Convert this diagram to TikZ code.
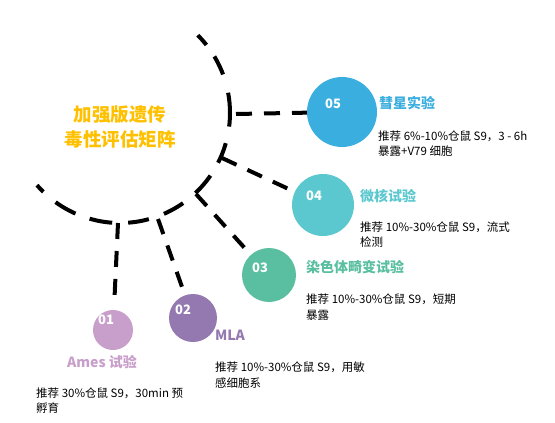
\documentclass[tikz,border=0pt]{standalone}
\usepackage{fontspec}
\setmainfont{Noto Sans CJK SC}
\usetikzlibrary{calc}
\definecolor{cfive}{RGB}{59,174,224}
\definecolor{cfour}{RGB}{91,200,208}
\definecolor{cthree}{RGB}{90,190,160}
\definecolor{ctwo}{RGB}{148,120,176}
\definecolor{cone}{RGB}{200,158,202}
\definecolor{gold}{RGB}{255,192,0}
\tikzset{
  arcline/.style={line width=4pt, dash pattern=on 13pt off 14pt on 20pt off 19pt on 34pt off 17pt on 21pt off 15pt on 23pt off 16pt on 22pt off 16pt on 21pt off 16pt on 23pt off 15pt on 23pt off 16pt on 20pt off 20pt},
  conn/.style={line width=4pt, dash pattern=on 16pt off 12pt},
  disc/.style={circle, inner sep=0pt, draw=none},
  num/.style={text=white, font=\fontsize{13}{13}\selectfont\bfseries, inner sep=0pt},
  ttl/.style={font=\fontsize{14}{14}\selectfont\bfseries, inner sep=0pt, anchor=west},
  desc/.style={font=\fontsize{11.5}{15.5}\selectfont, inner sep=0pt, anchor=west, align=left},
}
\begin{document}
\begin{tikzpicture}[x=1pt,y=1pt]
\useasboundingbox (0,0) rectangle (555,-423);
\coordinate (c) at (120,-113);
% main arc
\draw[arcline] ($(c)+(45:110)$) arc[start angle=45, end angle=-139, radius=110];
% title
\node[text=gold, font=\fontsize{18.5}{25}\selectfont\bfseries, align=center, inner sep=0pt] (title) at (120,-127.5) {加强版遗传\\毒性评估矩阵};
% circles
\node[disc, fill=cfive, minimum size=70pt] (n5) at (342,-112) {};
\node[disc, fill=cfour, minimum size=62pt] (n4) at (323,-205) {};
\node[disc, fill=cthree, minimum size=54pt] (n3) at (269,-275) {};
\node[disc, fill=ctwo, minimum size=48pt] (n2) at (193,-318) {};
\node[disc, fill=cone, minimum size=40pt] (n1) at (113,-330) {};
% numbers
\node[num] (l5) at (333,-104) {05};
\node[num] (l4) at (314,-196) {04};
\node[num] (l3) at (260,-268) {03};
\node[num] (l2) at (183,-310) {02};
\node[num] (l1) at (106,-320) {01};
% connector start points on the arc
\coordinate (s5) at (236,-114);
\coordinate (s4) at (222,-158);
\coordinate (s3) at (196,-194);
\coordinate (s2) at (158,-219);
\coordinate (s1) at (118,-223);
\draw[conn] (s5) -- (n5);
\draw[conn, shorten >=2pt] (s4) -- (n4);
\draw[conn, shorten >=6pt] (s3) -- (n3);
\draw[conn, shorten >=9pt] (s2) -- (n2);
\draw[conn, shorten >=13pt] (s1) -- (n1);
% titles
\node[ttl, text=cfive] (t5) at (379,-103) {彗星实验};
\node[ttl, text=cfour] (t4) at (360,-196) {微核试验};
\node[ttl, text=cthree] (t3) at (306,-267) {染色体畸变试验};
\node[ttl, text=ctwo] (t2) at (215,-335) {MLA};
\node[ttl, text=cone, anchor=center] (t1) at (102,-362) {Ames 试验};
% descriptions
\node[desc] (d5) at (378,-143.5) {推荐 6\%-10\%仓鼠 S9，3 - 6h\\暴露+V79 细胞};
\node[desc] (d4) at (360,-234.5) {推荐 10\%-30\%仓鼠 S9，流式\\检测};
\node[desc] (d3) at (306,-307) {推荐 10\%-30\%仓鼠 S9，短期\\暴露};
\node[desc] (d2) at (215,-375) {推荐 10\%-30\%仓鼠 S9，用敏\\感细胞系};
\node[desc] (d1) at (36,-400.5) {推荐 30\%仓鼠 S9，30min 预\\孵育};
\end{tikzpicture}
\end{document}
